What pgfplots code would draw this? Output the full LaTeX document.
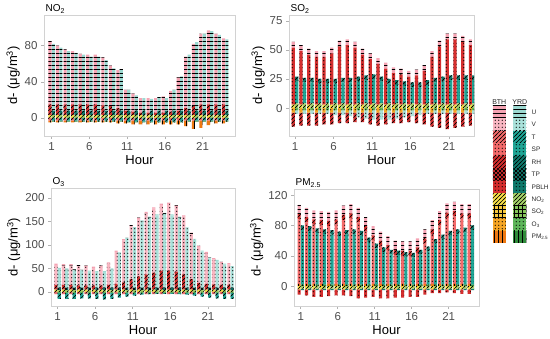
\documentclass[border=0pt]{standalone}
\usepackage{fontspec}
\setmainfont{Liberation Sans}
\usepackage{pgfplots}
\pgfplotsset{compat=1.18}
\usepackage{pgfplotstable}
\usetikzlibrary{patterns}

\pgfdeclarepatternformonly{hl}{\pgfpoint{-1pt}{0pt}}{\pgfpoint{101pt}{4pt}}{\pgfpoint{100pt}{4pt}}{%
 \pgfsetlinewidth{0.7pt}\pgfpathmoveto{\pgfpoint{-1pt}{2pt}}\pgfpathlineto{\pgfpoint{101pt}{2pt}}\pgfusepath{stroke}}
\pgfdeclarepatternformonly{vl}{\pgfpoint{0pt}{-1pt}}{\pgfpoint{4pt}{101pt}}{\pgfpoint{4pt}{100pt}}{%
 \pgfsetlinewidth{0.9pt}\pgfpathmoveto{\pgfpoint{2pt}{-1pt}}\pgfpathlineto{\pgfpoint{2pt}{101pt}}\pgfusepath{stroke}}
\pgfdeclarepatternformonly{ne}{\pgfpoint{-1pt}{-1pt}}{\pgfpoint{5pt}{5pt}}{\pgfpoint{4pt}{4pt}}{%
 \pgfsetlinewidth{0.6pt}\pgfpathmoveto{\pgfpoint{-1pt}{-1pt}}\pgfpathlineto{\pgfpoint{5pt}{5pt}}\pgfusepath{stroke}}
\pgfdeclarepatternformonly{ch}{\pgfpoint{-1pt}{-1pt}}{\pgfpoint{5pt}{5pt}}{\pgfpoint{4pt}{4pt}}{%
 \pgfsetlinewidth{0.6pt}\pgfpathmoveto{\pgfpoint{-1pt}{-1pt}}\pgfpathlineto{\pgfpoint{5pt}{5pt}}%
 \pgfpathmoveto{\pgfpoint{-1pt}{5pt}}\pgfpathlineto{\pgfpoint{5pt}{-1pt}}\pgfusepath{stroke}}
\pgfdeclarepatternformonly{gr}{\pgfpoint{-1pt}{-1pt}}{\pgfpoint{5pt}{5pt}}{\pgfpoint{4pt}{4pt}}{%
 \pgfsetlinewidth{0.7pt}\pgfpathmoveto{\pgfpoint{2pt}{-1pt}}\pgfpathlineto{\pgfpoint{2pt}{5pt}}%
 \pgfpathmoveto{\pgfpoint{-1pt}{2pt}}\pgfpathlineto{\pgfpoint{5pt}{2pt}}\pgfusepath{stroke}}
\pgfdeclarepatternformonly{dt}{\pgfpoint{-1pt}{-1pt}}{\pgfpoint{4.5pt}{4.5pt}}{\pgfpoint{3.5pt}{3.5pt}}{%
 \pgfpathcircle{\pgfpoint{1.75pt}{1.75pt}}{0.55pt}\pgfusepath{fill}}

\definecolor{bU}{HTML}{F4A3B3}
\definecolor{bV}{HTML}{F9B6C2}
\definecolor{bT}{HTML}{F36A6A}
\definecolor{bR}{HTML}{D42E2E}
\definecolor{bY}{HTML}{F8E04A}
\definecolor{bY2}{HTML}{F6C83E}
\definecolor{bO}{HTML}{F5A524}
\definecolor{bPM}{HTML}{EE7812}
\definecolor{yU}{HTML}{9CD9D1}
\definecolor{yV}{HTML}{A9E1DA}
\definecolor{yT}{HTML}{1FA595}
\definecolor{yR}{HTML}{0F7A6C}
\definecolor{yG1}{HTML}{A6D46A}
\definecolor{yG2}{HTML}{86C65B}
\definecolor{yO}{HTML}{5DB55A}
\definecolor{yPM}{HTML}{2F8B3A}
\definecolor{tickgray}{HTML}{4D4D4D}

\pgfplotsset{
 BU/.style={fill=bU,draw=none,postaction={pattern=hl}},
 BV/.style={fill=bV,draw=none,postaction={pattern=dt}},
 BT/.style={fill=bT,draw=none,postaction={pattern=ne}},
 BSP/.style={fill=bT,draw=none,postaction={pattern=dt}},
 BRH/.style={fill=bR,draw=none,postaction={pattern=ne}},
 BTP/.style={fill=bR,draw=none,postaction={pattern=ch}},
 BPB/.style={fill=bR,draw=none,postaction={pattern=dt}},
 BNO/.style={fill=bY,draw=none,postaction={pattern=ne}},
 BSO/.style={fill=bY2,draw=none,postaction={pattern=gr}},
 BO3/.style={fill=bO,draw=none,postaction={pattern=dt}},
 BPM/.style={fill=bPM,draw=none,postaction={pattern=vl}},
 YU/.style={fill=yU,draw=none,postaction={pattern=hl}},
 YV/.style={fill=yV,draw=none,postaction={pattern=dt}},
 YT/.style={fill=yT,draw=none,postaction={pattern=ne}},
 YSP/.style={fill=yT,draw=none,postaction={pattern=dt}},
 YRH/.style={fill=yR,draw=none,postaction={pattern=ne}},
 YTP/.style={fill=yR,draw=none,postaction={pattern=ch}},
 YPB/.style={fill=yR,draw=none,postaction={pattern=dt}},
 YNO/.style={fill=yG1,draw=none,postaction={pattern=ne}},
 YSO/.style={fill=yG2,draw=none,postaction={pattern=gr}},
 YO3/.style={fill=yO,draw=none,postaction={pattern=dt}},
 YPM/.style={fill=yPM,draw=none,postaction={pattern=vl}},
 panel/.style={
  scale only axis, ybar stacked, bar width=0.42,
  xtick={1,6,11,16,21}, xtick pos=left, ytick pos=left,
  tick align=outside, major tick length=3pt,
  tick style={draw=gray!60, line width=0.6pt},
  axis line style={draw=gray!35, line width=0.8pt},
  tick label style={font=\fontsize{11.5}{12}\selectfont, text=tickgray},
  label style={font=\fontsize{13}{14}\selectfont},
  xlabel={Hour}, ylabel={d- (μg/m\textsuperscript{3})},
  xlabel style={yshift=2pt},
  ylabel style={yshift=-2pt},
  title style={at={(rel axis cs:0,1)}, anchor=south west, yshift=-6pt, font=\fontsize{10}{11}\selectfont, inner sep=1.5pt},
  /pgf/number format/assume math mode=true,
 },
 pA/.style={panel, at={(44pt,324pt)}, anchor=north west, width=191pt, height=121pt,
  xmin=-0.02, xmax=25.3, ymin=-20, ymax=114, ytick={0,40,80}},
 pB/.style={panel, at={(289pt,324pt)}, anchor=north west, width=185pt, height=121pt,
  xmin=0.22, xmax=24.25, ymin=-24, ymax=80, ytick={0,25,50,75}},
 pC/.style={panel, at={(51pt,151pt)}, anchor=north west, width=184pt, height=118pt,
  xmin=0.12, xmax=24.6, ymin=-30, ymax=221, ytick={0,50,100,150,200}},
 pD/.style={panel, at={(294pt,150pt)}, anchor=north west, width=185pt, height=117pt,
  xmin=0.09, xmax=25.1, ymin=-26, ymax=128, ytick={0,40,80,120}},
}

% BTH stack (left of each hour); negatives and positives stack separately
\newcommand{\drawB}[7]{%
\addplot[#2] table[x expr=\thisrow{h}-0.22, y=Bn1]{#1};
\addplot[#3] table[x expr=\thisrow{h}-0.22, y=Bn2]{#1};
\addplot[#4] table[x expr=\thisrow{h}-0.22, y=Bp1]{#1};
\addplot[#5] table[x expr=\thisrow{h}-0.22, y=Bp2]{#1};
\addplot[#6] table[x expr=\thisrow{h}-0.22, y=Bp3]{#1};
\addplot[#7] table[x expr=\thisrow{h}-0.22, y=Bp4]{#1};
}
% YRD stack (right of each hour)
\newcommand{\drawY}[7]{%
\addplot[#2] table[x expr=\thisrow{h}+0.22, y=Yn1]{#1};
\addplot[#3] table[x expr=\thisrow{h}+0.22, y=Yn2]{#1};
\addplot[#4] table[x expr=\thisrow{h}+0.22, y=Yp1]{#1};
\addplot[#5] table[x expr=\thisrow{h}+0.22, y=Yp2]{#1};
\addplot[#6] table[x expr=\thisrow{h}+0.22, y=Yp3]{#1};
\addplot[#7] table[x expr=\thisrow{h}+0.22, y=Yp4]{#1};
}

% NO2 panel
\pgfplotstableread{
h Bn1 Bn2 Bp1 Bp2 Bp3 Bp4 Yn1 Yn2 Yp1 Yp2 Yp3 Yp4
1 -3 -2 3 12 70 0 -3 -1 3 5 74 0
2 -3 -2 3 12 65 0 -3 -1 3 5 70 0
3 -3 -2 3 12 61 0 -3 -1 3 5 66 0
4 -3 -2 3 12 59 0 -3 -1 3 5 64 0
5 -3 -2 3 12 56 0 -3 -1 3 5 62 0
6 -3 -2 3 12 55 0 -3 -1 3 5 60 0
7 -3 -2 3 12 55 0 -3 -1 3 5 60 0
8 -3 -2 3 11 53 0 -3 -1 3 5 56 0
9 -3 -2 3 10 45 0 -3 -1 3 5 47 0
10 -3 -3 3 8 42 0 -3 -1 3 5 46 0
11 -3 -3 3 5 23 0 -4 -1 3 5 23 0
12 -3 -4 3 4 20 0 -4 -1 3 5 17 0
13 -3 -4 3 3 16 0 -4 -1 3 5 14 0
14 -3 -4 3 3 16 0 -4 -1 3 5 13 0
15 -3 -4 3 3 16 0 -4 -1 3 5 15 0
16 -3 -4 3 3 18 0 -4 -1 3 5 14 0
17 -3 -4 3 4 23 0 -4 -1 3 5 23 0
18 -3 -4 3 5 37 0 -4 -1 3 5 38 0
19 -3 -6 3 8 57 0 -3 -1 3 5 62 0
20 -3 -9 3 10 69 0 -3 -1 3 5 76 0
21 -3 -8 3 12 78 0 -3 -1 3 5 85 0
22 -3 -5 3 12 82 0 -3 -1 3 5 88 0
23 -3 -3 3 12 78 0 -3 -1 3 5 84 0
24 -3 -3 3 12 73 0 -3 -1 3 5 79 0
}\tNO

% SO2 panel
\pgfplotstableread{
h Bn1 Bn2 Bp1 Bp2 Bp3 Bp4 Yn1 Yn2 Yp1 Yp2 Yp3 Yp4
1 -4 -12 3 49 5 0 -2 -3 4 19 4 0
2 -4 -11 3 46 5 0 -2 -3 4 18 4 0
3 -4 -11 3 43 5 0 -2 -3 4 18 4 0
4 -4 -11 3 41 5 0 -2 -3 4 17 4 0
5 -4 -10 3 41 5 0 -2 -3 4 17 4 0
6 -4 -10 3 44 5 0 -2 -4 4 17 4 0
7 -4 -9 3 50 5 0 -2 -4 4 18 4 0
8 -4 -9 3 51 5 0 -2 -5 4 18 4 0
9 -4 -8 3 49 5 0 -2 -6 4 19 4 0
10 -4 -8 3 43 5 0 -2 -7 4 20 4 0
11 -4 -10 3 39 5 0 -2 -8 4 21 4 0
12 -4 -11 3 35 5 0 -2 -8 4 19 4 0
13 -4 -10 3 31 5 0 -2 -8 4 17 4 0
14 -4 -9 3 27 5 0 -2 -7 4 16 4 0
15 -4 -9 3 26 5 0 -2 -6 4 15 4 0
16 -4 -8 3 24 5 0 -2 -5 4 14 4 0
17 -4 -9 3 25 5 0 -2 -4 4 14 4 0
18 -4 -10 3 29 5 0 -2 -3 4 16 4 0
19 -4 -12 3 41 5 0 -2 -3 4 18 4 0
20 -4 -13 3 50 5 0 -2 -3 4 19 4 0
21 -4 -14 3 56 5 0 -2 -3 4 20 4 0
22 -4 -13 3 56 5 0 -2 -3 4 20 4 0
23 -4 -12 3 54 5 0 -2 -3 4 20 4 0
24 -4 -11 3 51 5 0 -2 -3 4 20 4 0
}\tSO

% O3 panel
\pgfplotstableread{
h Bn1 Bn2 Bp1 Bp2 Bp3 Bp4 Yn1 Yn2 Yp1 Yp2 Yp3 Yp4
1 -3 -2 5 10 42 3 -2 -13 4 5 40 2
2 -3 -2 5 10 41 3 -2 -13 4 5 39 2
3 -3 -2 5 10 41 3 -2 -13 4 5 37 2
4 -3 -2 5 9 40 3 -2 -12 4 5 36 2
5 -3 -2 5 9 39 3 -2 -12 4 5 34 2
6 -3 -2 5 9 37 3 -2 -13 4 5 33 2
7 -3 -2 5 9 39 3 -2 -14 4 5 33 2
8 -3 -2 5 10 45 3 -2 -13 4 5 39 2
9 -3 -2 5 12 68 3 -2 -10 4 5 73 2
10 -3 -2 5 15 89 3 -2 -8 4 5 104 2
11 -3 -2 5 22 112 3 -2 -6 4 5 127 2
12 -3 -2 5 28 122 3 -2 -4 4 5 141 2
13 -3 -2 5 32 130 3 -2 -3 4 5 149 2
14 -3 -2 5 36 136 3 -2 -2 4 5 154 2
15 -3 -2 5 40 140 3 -2 -2 4 5 157 2
16 -3 -2 5 40 142 3 -2 -2 4 5 154 2
17 -3 -2 5 38 138 3 -2 -3 4 5 149 2
18 -3 -2 5 32 123 3 -2 -4 4 5 126 2
19 -3 -2 5 22 96 3 -2 -6 4 5 102 2
20 -3 -2 5 14 76 3 -2 -8 4 5 77 2
21 -3 -2 5 12 65 3 -2 -10 4 5 62 2
22 -3 -2 5 11 53 3 -2 -12 4 5 57 2
23 -3 -2 5 10 46 3 -2 -13 4 5 49 2
24 -3 -2 5 10 43 3 -2 -13 4 5 44 2
}\tOT

% PM2.5 panel
\pgfplotstableread{
h Bn1 Bn2 Bp1 Bp2 Bp3 Bp4 Yn1 Yn2 Yp1 Yp2 Yp3 Yp4
1 -4 -7 3 85 7 12 -3 -2 2 72 6 0
2 -4 -8 3 81 7 12 -3 -2 2 71 6 0
3 -4 -10 3 78 7 12 -3 -2 2 68 6 0
4 -4 -10 3 77 7 12 -3 -2 2 67 6 0
5 -4 -9 3 76 7 12 -3 -2 2 66 6 0
6 -4 -8 3 78 7 12 -3 -2 2 64 6 0
7 -4 -8 3 84 7 12 -3 -2 2 66 6 0
8 -4 -9 3 86 7 12 -3 -2 2 67 6 0
9 -4 -12 3 81 7 12 -3 -2 2 65 6 0
10 -4 -11 3 69 7 12 -3 -2 2 56 6 0
11 -4 -10 3 57 7 12 -3 -2 2 48 6 0
12 -4 -12 3 50 7 12 -3 -2 2 43 6 0
13 -4 -12 3 44 7 12 -3 -2 2 40 6 0
14 -4 -11 3 38 7 12 -3 -2 2 39 6 0
15 -4 -11 3 37 7 12 -3 -2 2 37 6 0
16 -4 -10 3 37 7 12 -3 -2 2 36 6 0
17 -4 -10 3 41 7 12 -3 -2 2 40 6 0
18 -4 -7 3 53 7 12 -3 -2 2 44 6 0
19 -4 -5 3 65 7 12 -3 -2 2 54 6 0
20 -4 -5 3 77 7 12 -3 -2 2 60 6 0
21 -4 -4 3 87 7 12 -3 -2 2 65 6 0
22 -4 -5 3 89 7 12 -3 -2 2 67 6 0
23 -4 -6 3 86 7 12 -3 -2 2 69 6 0
24 -4 -6 3 86 7 12 -3 -2 2 72 6 0
}\tPM

\begin{document}
\begin{tikzpicture}
\useasboundingbox (0pt,0pt) rectangle (550pt,339pt);

% NO2
\begin{axis}[pA, title={NO\textsubscript{2}}]
\drawB{\tNO}{BT}{BPM}{BNO}{BRH}{BU}{BV}
\end{axis}
\begin{axis}[pA, hide axis]
\drawY{\tNO}{YT}{YPM}{YNO}{YRH}{YU}{YV}
\end{axis}

% SO2
\begin{axis}[pB, title={SO\textsubscript{2}}]
\drawB{\tSO}{BO3}{BRH}{BNO}{BPB}{BU}{BV}
\end{axis}
\begin{axis}[pB, hide axis]
\drawY{\tSO}{YO3}{YV}{YNO}{YSP}{YRH}{YV}
\end{axis}

% O3
\begin{axis}[pC, title={O\textsubscript{3}}]
\drawB{\tOT}{BT}{BPB}{BNO}{BRH}{BV}{BU}
\end{axis}
\begin{axis}[pC, hide axis]
\drawY{\tOT}{YO3}{YT}{YNO}{YTP}{YV}{YU}
\end{axis}

% PM2.5
\begin{axis}[pD, title={PM\textsubscript{2.5}}]
\drawB{\tPM}{BNO}{BPB}{BPM}{BSP}{BRH}{BU}
\end{axis}
\begin{axis}[pD, hide axis]
\drawY{\tPM}{YNO}{YPB}{YPM}{YSP}{YRH}{YV}
\end{axis}

% legend key
\begin{axis}[at={(489pt,233pt)}, anchor=north west, scale only axis,
  width=41pt, height=137pt, ybar stacked, bar width=13pt,
  xmin=-0.5, xmax=1.5, ymin=0, ymax=11,
  axis line style={draw=none}, major tick length=0pt,
  xtick={0,1}, xticklabels={BTH,YRD}, xticklabel pos=upper,
  ytick={0.5,1.5,2.5,3.5,4.5,5.5,6.5,7.5,8.5,9.5,10.5},
  yticklabels={PM\textsubscript{2.5},O\textsubscript{3},SO\textsubscript{2},NO\textsubscript{2},PBLH,TP,RH,SP,T,V,U},
  yticklabel pos=upper,
  x tick label style={font=\fontsize{7}{8}\selectfont, text=black!85, inner sep=1.5pt},
  y tick label style={font=\fontsize{6.5}{7}\selectfont, text=black!85, inner sep=1.5pt},
  clip=false]
\addplot[BPM] coordinates {(0,1) (1,0)};
\addplot[YPM] coordinates {(0,0) (1,1)};
\addplot[BO3] coordinates {(0,1) (1,0)};
\addplot[YO3] coordinates {(0,0) (1,1)};
\addplot[BSO] coordinates {(0,1) (1,0)};
\addplot[YSO] coordinates {(0,0) (1,1)};
\addplot[BNO] coordinates {(0,1) (1,0)};
\addplot[YNO] coordinates {(0,0) (1,1)};
\addplot[BPB] coordinates {(0,1) (1,0)};
\addplot[YPB] coordinates {(0,0) (1,1)};
\addplot[BTP] coordinates {(0,1) (1,0)};
\addplot[YTP] coordinates {(0,0) (1,1)};
\addplot[BRH] coordinates {(0,1) (1,0)};
\addplot[YRH] coordinates {(0,0) (1,1)};
\addplot[BSP] coordinates {(0,1) (1,0)};
\addplot[YSP] coordinates {(0,0) (1,1)};
\addplot[BT] coordinates {(0,1) (1,0)};
\addplot[YT] coordinates {(0,0) (1,1)};
\addplot[BV] coordinates {(0,1) (1,0)};
\addplot[YV] coordinates {(0,0) (1,1)};
\addplot[BU] coordinates {(0,1) (1,0)};
\addplot[YU] coordinates {(0,0) (1,1)};
\end{axis}
\end{tikzpicture}
\end{document}
